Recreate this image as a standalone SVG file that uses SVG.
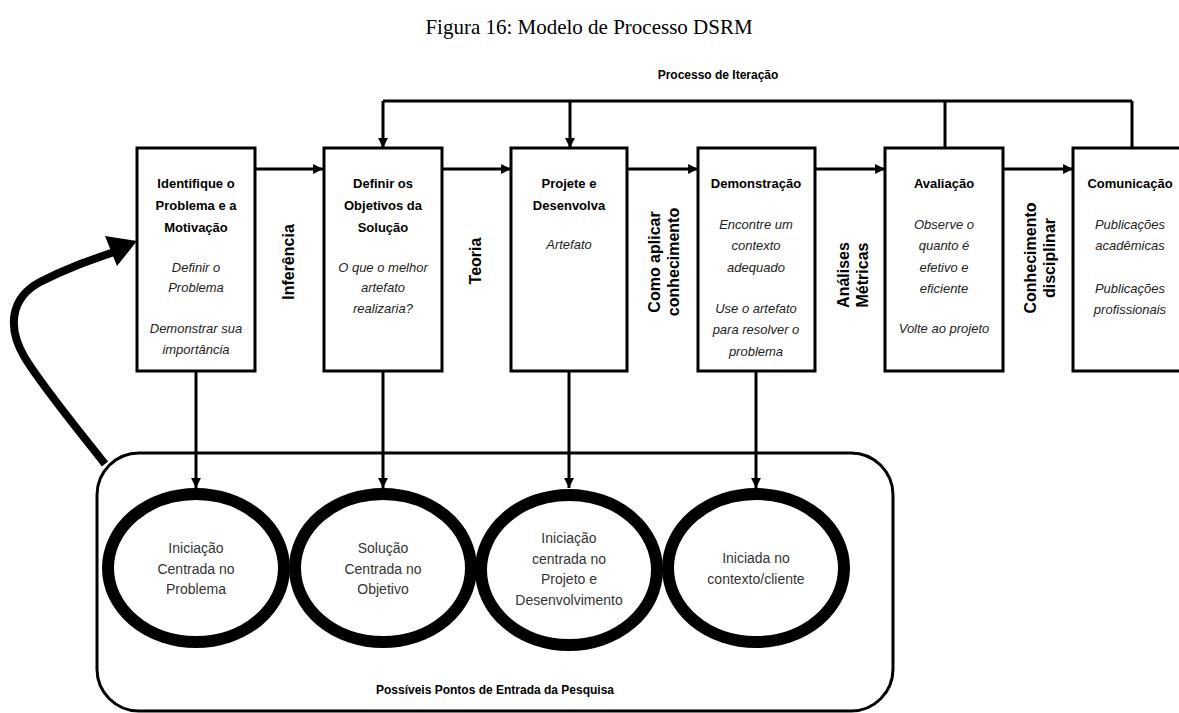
<svg xmlns="http://www.w3.org/2000/svg" width="1179" height="713" viewBox="0 0 1179 713">
<defs>
<marker id="ah" viewBox="0 0 10 10" refX="10" refY="5" markerWidth="3.3" markerHeight="3.3" orient="auto" markerUnits="strokeWidth">
<path d="M0,0 L10,5 L0,10 z" fill="#000"/>
</marker>
<style>
.box{fill:#fff;stroke:#000;stroke-width:3}
.ln{fill:none;stroke:#000;stroke-width:3}
.ar{fill:none;stroke:#000;stroke-width:3;marker-end:url(#ah)}
.ring{fill:#fff;stroke:#000;stroke-width:12}
.hd{font-family:"Liberation Sans",Arial,sans-serif;font-weight:bold;font-size:13px;fill:#000;text-anchor:middle}
.it{font-family:"Liberation Sans",Arial,sans-serif;font-style:italic;font-size:13px;fill:#222;text-anchor:middle}
.vl{font-family:"Liberation Sans",Arial,sans-serif;font-weight:bold;font-size:16px;fill:#000;text-anchor:middle}
.ct{font-family:"Liberation Sans",Arial,sans-serif;font-size:14px;fill:#333;text-anchor:middle}
.sm{font-family:"Liberation Sans",Arial,sans-serif;font-weight:bold;font-size:12px;fill:#000;text-anchor:middle}
</style>
</defs>
<rect width="1179" height="713" fill="#fff"/>
<text x="589" y="34" style="font-family:'Liberation Serif','Times New Roman',serif;font-size:21px;fill:#000" text-anchor="middle">Figura 16: Modelo de Processo DSRM</text>
<text class="sm" x="718" y="79">Processo de Iteração</text>

<g id="entry-region">
<rect x="97" y="453" width="796" height="258" rx="42" ry="42" class="ln"/>
<text class="sm" x="495" y="694">Possíveis Pontos de Entrada da Pesquisa</text>
</g>

<g id="connectors">
<path class="ln" d="M383,101 H1132 M945,101 V148 M1132,101 V148"/>
<path class="ar" d="M383,101 V148"/>
<path class="ar" d="M570,101 V148"/>
<path class="ar" d="M255,169 H323"/>
<path class="ar" d="M443,169 H511"/>
<path class="ar" d="M627,169 H698"/>
<path class="ar" d="M815,169 H885"/>
<path class="ar" d="M1003,169 H1073"/>
<path class="ar" d="M196,372 V488"/>
<path class="ar" d="M383,372 V488"/>
<path class="ar" d="M569,372 V488"/>
<path class="ar" d="M756,372 V488"/>
<path d="M105,464 C80,432 45,390 25,358 C7,328 10,298 40,282 C65,269 88,261 114,252" fill="none" stroke="#000" stroke-width="8"/>
<path d="M137,241 L105,236 L117,266 z" fill="#000"/>
</g>

<g id="n1">
<rect class="box" x="137" y="148" width="118" height="223"/>
<text class="hd" x="196" y="188">Identifique o</text>
<text class="hd" x="196" y="210">Problema e a</text>
<text class="hd" x="196" y="232">Motivação</text>
<text class="it" x="196" y="272">Definir o</text>
<text class="it" x="196" y="292">Problema</text>
<text class="it" x="196" y="333">Demonstrar sua</text>
<text class="it" x="196" y="354">importância</text>
</g>
<g id="n2">
<rect class="box" x="324" y="148" width="118" height="223"/>
<text class="hd" x="383" y="188">Definir os</text>
<text class="hd" x="383" y="210">Objetivos da</text>
<text class="hd" x="383" y="232">Solução</text>
<text class="it" x="383" y="272">O que o melhor</text>
<text class="it" x="383" y="292">artefato</text>
<text class="it" x="383" y="313">realizaria?</text>
</g>
<g id="n3">
<rect class="box" x="511" y="148" width="116" height="223"/>
<text class="hd" x="569" y="188">Projete e</text>
<text class="hd" x="569" y="210">Desenvolva</text>
<text class="it" x="569" y="249">Artefato</text>
</g>
<g id="n4">
<rect class="box" x="698" y="148" width="117" height="223"/>
<text class="hd" x="756" y="188">Demonstração</text>
<text class="it" x="756" y="229">Encontre um</text>
<text class="it" x="756" y="250">contexto</text>
<text class="it" x="756" y="272">adequado</text>
<text class="it" x="756" y="313">Use o artefato</text>
<text class="it" x="756" y="334">para resolver o</text>
<text class="it" x="756" y="356">problema</text>
</g>
<g id="n5">
<rect class="box" x="885" y="148" width="118" height="223"/>
<text class="hd" x="944" y="188">Avaliação</text>
<text class="it" x="944" y="229">Observe o</text>
<text class="it" x="944" y="250">quanto é</text>
<text class="it" x="944" y="272">efetivo e</text>
<text class="it" x="944" y="293">eficiente</text>
<text class="it" x="944" y="333">Volte ao projeto</text>
</g>
<g id="n6">
<rect class="box" x="1073" y="148" width="120" height="223"/>
<text class="hd" x="1130" y="188">Comunicação</text>
<text class="it" x="1130" y="229">Publicações</text>
<text class="it" x="1130" y="250">acadêmicas</text>
<text class="it" x="1130" y="293">Publicações</text>
<text class="it" x="1130" y="314">profissionais</text>
</g>

<g id="edge-labels">
<text class="vl" transform="translate(294,262) rotate(-90)">Inferência</text>
<text class="vl" transform="translate(481,261) rotate(-90)">Teoria</text>
<text class="vl" transform="translate(660,262) rotate(-90)">Como aplicar</text>
<text class="vl" transform="translate(679,262) rotate(-90)">conhecimento</text>
<text class="vl" transform="translate(849,275) rotate(-90)">Análises</text>
<text class="vl" transform="translate(868,275) rotate(-90)">Métricas</text>
<text class="vl" transform="translate(1036,258) rotate(-90)">Conhecimento</text>
<text class="vl" transform="translate(1055,258) rotate(-90)">disciplinar</text>
</g>

<g id="c1">
<ellipse class="ring" cx="196" cy="568" rx="88" ry="74"/>
<text class="ct" x="196" y="553">Iniciação</text>
<text class="ct" x="196" y="574">Centrada no</text>
<text class="ct" x="196" y="594">Problema</text>
</g>
<g id="c2">
<ellipse class="ring" cx="383" cy="568" rx="88" ry="74"/>
<text class="ct" x="383" y="553">Solução</text>
<text class="ct" x="383" y="574">Centrada no</text>
<text class="ct" x="383" y="594">Objetivo</text>
</g>
<g id="c3">
<ellipse class="ring" cx="569" cy="570" rx="88" ry="75"/>
<text class="ct" x="569" y="543">Iniciação</text>
<text class="ct" x="569" y="564">centrada no</text>
<text class="ct" x="569" y="584">Projeto e</text>
<text class="ct" x="569" y="605">Desenvolvimento</text>
</g>
<g id="c4">
<ellipse class="ring" cx="756" cy="568" rx="88" ry="74"/>
<text class="ct" x="756" y="563">Iniciada no</text>
<text class="ct" x="756" y="584">contexto/cliente</text>
</g>
</svg>
